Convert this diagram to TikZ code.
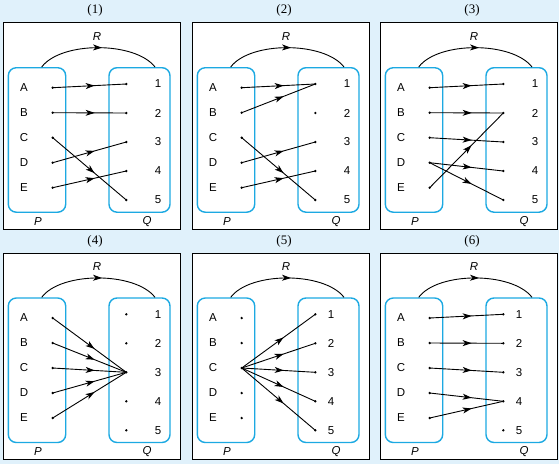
\documentclass[tikz,border=0pt]{standalone}
\usepackage{fontspec}
\setmainfont{Liberation Sans}
\newfontfamily\titlefont{Liberation Serif}
\usetikzlibrary{arrows.meta,decorations.markings}
\definecolor{bgblue}{HTML}{E0F1FB}
\definecolor{setcyan}{HTML}{1CA9E2}
\tikzset{
  frame/.style={draw=black,fill=white,line width=0.9pt},
  setbox/.style={draw=setcyan,line width=1.4pt,rounded corners=8pt},
  arcline/.style={draw=black,line width=0.9pt,postaction={decorate},
    decoration={markings,mark=at position 0.53 with {\arrow{Stealth[length=9pt,width=6pt,inset=2.5pt]}}}},
  rel/.style={draw=black,line width=0.9pt,postaction={decorate},
    decoration={markings,mark=at position 0.57 with {\arrow{Stealth[length=9pt,width=6pt,inset=2.5pt]}}}},
  titletxt/.style={font=\titlefont\fontsize{13}{15}\selectfont,inner sep=0pt},
  txt/.style={font=\fontsize{11.5}{13}\selectfont,inner sep=0pt},
  lab/.style={font=\fontsize{11.5}{13}\selectfont\itshape,inner sep=0pt},
  dotmark/.style={fill=black,circle,inner sep=0pt,minimum size=2.6pt}
}
\newcommand\mkpanel[5]{%
  \begin{scope}[shift={(#2,#3)}]
    \draw[frame] (0,0) rectangle (177,206.5);
    \node[titletxt] (#1t) at (92,-12) {(#4)};
    \draw[setbox] (5.3,45) rectangle (62.7,189.5);
    \draw[setbox] (106,45) rectangle (167,189.5);
    \draw[arcline] (38.7,44.3) .. controls (58,18.5) and (132,18.5) .. (152,44.3);
    \node[lab] (#1R) at (94,13.5) {R};
    \node[lab] (#1P) at (35,198.5) {P};
    \node[lab] (#1Q) at (144,198.5) {Q};
    \foreach \l [count=\i] in {A,B,C,D,E} {
      \node[txt] (#1\l) at (21,{40+25*\i}) {\l};
      \node[dotmark] (#1p\l) at (49.7,{40+25*\i}) {};
    }
    \foreach \i in {1,...,5} {
      \node[txt] (#1n\i) at (#5,{32.3+29*\i}) {\i};
      \node[dotmark] (#1q\i) at (123.3,{32.3+29*\i}) {};
    }
  \end{scope}}
\begin{document}
\begin{tikzpicture}[x=1pt,y=-1pt]
  \fill[bgblue] (0,0) rectangle (559,464);
  \useasboundingbox (0,0) rectangle (559,464);
  % panel 1
  \mkpanel{a}{3}{22.7}{1}{155}
  \draw[rel] (apA.center) -- (aq1.center);
  \draw[rel] (apB.center) -- (aq2.center);
  \draw[rel] (apC.center) -- (aq5.center);
  \draw[rel] (apD.center) -- (aq3.center);
  \draw[rel] (apE.center) -- (aq4.center);
  % panel 2
  \mkpanel{b}{192}{22.7}{2}{155}
  \draw[rel] (bpA.center) -- (bq1.center);
  \draw[rel] (bpB.center) -- (bq1.center);
  \draw[rel] (bpC.center) -- (bq5.center);
  \draw[rel] (bpD.center) -- (bq3.center);
  \draw[rel] (bpE.center) -- (bq4.center);
  % panel 3
  \mkpanel{c}{380}{22.7}{3}{155}
  \draw[rel] (cpA.center) -- (cq1.center);
  \draw[rel] (cpB.center) -- (cq2.center);
  \draw[rel] (cpC.center) -- (cq3.center);
  \draw[rel] (cpD.center) -- (cq4.center);
  \draw[rel] (cpD.center) -- (cq5.center);
  \draw[rel] (cpE.center) -- (cq2.center);
  % panel 4
  \mkpanel{d}{3}{253}{4}{155}
  \foreach \l in {A,B,C,D,E} \draw[rel] (dp\l.center) -- (dq3.center);
  % panel 5
  \mkpanel{e}{192}{253}{5}{139}
  \foreach \i in {1,...,5} \draw[rel] (epC.center) -- (eq\i.center);
  % panel 6
  \mkpanel{f}{380}{253}{6}{139}
  \draw[rel] (fpA.center) -- (fq1.center);
  \draw[rel] (fpB.center) -- (fq2.center);
  \draw[rel] (fpC.center) -- (fq3.center);
  \draw[rel] (fpD.center) -- (fq4.center);
  \draw[rel] (fpE.center) -- (fq4.center);
\end{tikzpicture}
\end{document}
